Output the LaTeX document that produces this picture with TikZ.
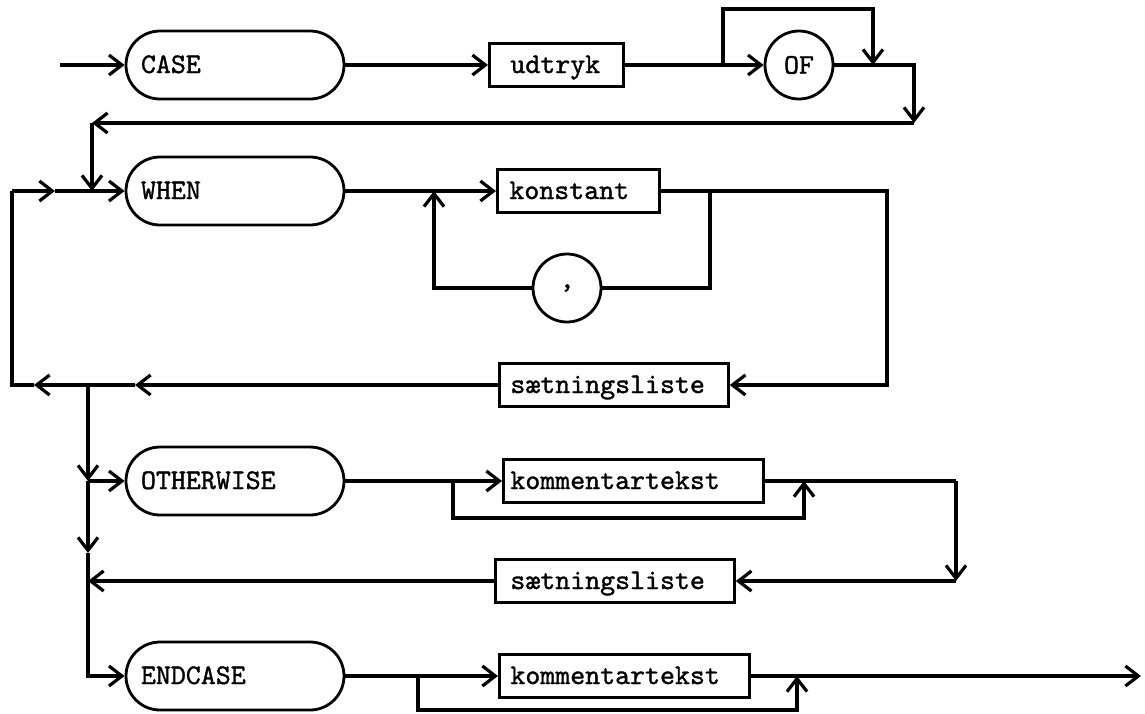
\documentclass[tikz,border=0pt]{standalone}
\usepackage{fontspec}
\usetikzlibrary{arrows.meta}
\newfontfamily\synface{lmmono10-regular.otf}[FakeBold=1.2]
\newcommand{\synfont}{\fontsize{28.5}{31}\selectfont\synface}
\begin{document}
\begin{tikzpicture}[x=1pt,y=-1pt,
  line width=3.2pt,
  flow/.style={-{Straight Barb[length=13pt,width=20pt]}},
  kw/.style={draw, line width=2.8pt, rectangle, rounded corners=34pt,
    minimum width=218pt, minimum height=68pt, text width=188pt,
    inner xsep=15pt, inner ysep=0pt, align=left, font=\synfont,
    text height=17pt, text depth=1pt},
  box/.style={draw, line width=2.8pt, rectangle, minimum height=43pt,
    anchor=west, inner ysep=0pt, align=left, font=\synfont,
    text height=17pt, text depth=1pt},
  ring/.style={draw, line width=2.8pt, circle, minimum size=68pt,
    inner sep=0pt, font=\synfont}]
\useasboundingbox (0,0) rectangle (1145,713);

% ---- CASE udtryk [OF]
\coordinate (start) at (60,65);
\node[kw] (case) at (235,65) {CASE};
\node[box, inner xsep=21pt, text width=92pt] (udtryk) at (488,65) {udtryk};
\coordinate (j1) at (723,65);
\node[ring] (of) at (799,65) {OF};
\coordinate (t1) at (723,9);
\coordinate (t2) at (873,9);
\coordinate (t3) at (873,65);
\coordinate (r1) at (914,123);
\coordinate (l1) at (92,123);
\coordinate (j2) at (92,191);

\draw[flow] (start) -- (case.west);
\draw[flow] (case.east) -- (udtryk.west);
\draw (udtryk.east) -- (j1);
\draw[flow] (j1) -- (of.west);
\draw[flow] (j1) -- (t1) -- (t2) -- (t3);
\draw[flow] (of.east) -| (r1);
\draw[flow] (r1) -- (l1);
\draw[flow] (l1) -- (j2);

% ---- WHEN konstant {, konstant} : saetningsliste
\node[kw] (when) at (235,191) {WHEN};
\coordinate (lc) at (12,191);
\coordinate (lb) at (12,385);
\coordinate (m1) at (55,191);
\coordinate (j3) at (434,191);
\coordinate (j4) at (710,191);
\coordinate (r2) at (887,191);
\node[box, inner xsep=12pt, text width=138pt] (konst) at (496,191) {konstant};
\node[ring] (comma) at (567,288) {,};
\node[box, inner xsep=11pt, text width=207pt] (satn1) at (498,385) {sætningsliste};
\coordinate (a1) at (135,385);
\coordinate (j5) at (88,385);
\coordinate (a2) at (34,385);

\draw[flow] (lc) -- (m1);
\draw (m1) -- (j2);
\draw[flow] (j2) -- (when.west);
\draw (when.east) -- (j3);
\draw[flow] (j3) -- (konst.west);
\draw (konst.east) -- (j4) |- (comma.east);
\draw[flow] (comma.west) -| (j3);
\draw[flow] (j4) -- (r2) |- (satn1.east);
\draw[flow] (satn1.west) -- (a1);
\draw (a1) -- (j5);
\draw[flow] (j5) -- (a2);
\draw (a2) -- (lb) -- (lc);

% ---- OTHERWISE [kommentartekst] saetningsliste
\coordinate (j6) at (88,481);
\node[kw] (other) at (235,481) {OTHERWISE};
\coordinate (j8) at (453,481);
\node[box, inner xsep=7pt, text width=246pt] (komm1) at (502,481) {kommentartekst};
\coordinate (b1) at (453,518);
\coordinate (b2) at (804,518);
\coordinate (b3) at (804,481);
\coordinate (r4) at (956,481);
\coordinate (r5) at (956,581);
\node[box, inner xsep=15pt, text width=209pt] (satn2) at (494,581) {sætningsliste};
\coordinate (j7) at (88,581);
\coordinate (a3) at (88,553);

\draw[flow] (j5) -- (j6);
\draw[flow] (j6) -- (other.west);
\draw (other.east) -- (j8);
\draw[flow] (j8) -- (komm1.west);
\draw[flow] (j8) -- (b1) -- (b2) -- (b3);
\draw (komm1.east) -- (r4);
\draw[flow] (r4) -- (r5);
\draw[flow] (r5) -- (satn2.east);
\draw[flow] (satn2.west) -- (j7);
\draw[flow] (j6) -- (a3);

% ---- ENDCASE [kommentartekst]
\node[kw] (endc) at (235,676) {ENDCASE};
\coordinate (j10) at (418,676);
\node[box, inner xsep=11pt, text width=228pt] (komm2) at (498,676) {kommentartekst};
\coordinate (c1) at (418,710);
\coordinate (c2) at (797,710);
\coordinate (c3) at (797,676);
\coordinate (exit) at (1141,676);

\draw[flow] (a3) |- (endc.west);
\draw (endc.east) -- (j10);
\draw[flow] (j10) -- (komm2.west);
\draw[flow] (j10) -- (c1) -- (c2) -- (c3);
\draw[flow] (komm2.east) -- (exit);
\end{tikzpicture}
\end{document}
